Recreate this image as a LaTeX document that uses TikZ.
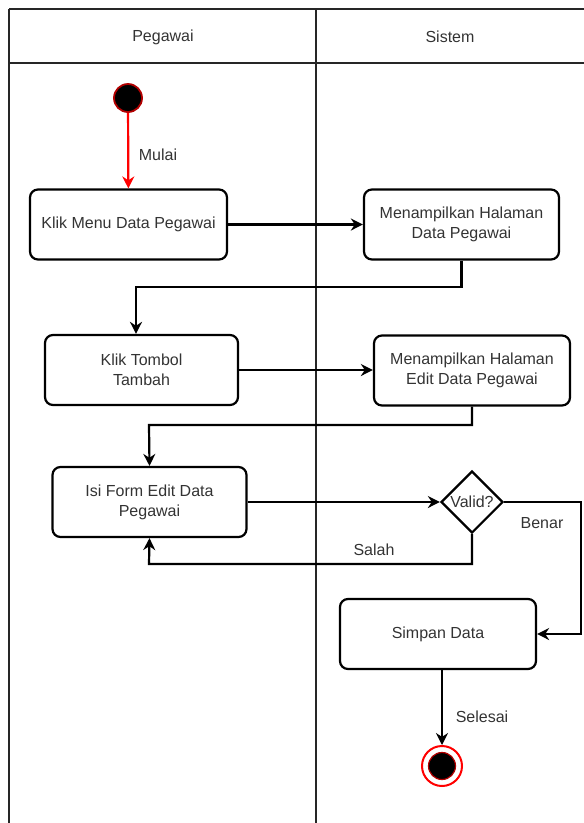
\documentclass[tikz,border=0pt]{standalone}
\usepackage{fontspec}
\setmainfont{Liberation Sans}
\usetikzlibrary{arrows.meta,shapes.geometric}

\begin{document}
\begin{tikzpicture}[x=1pt,y=-1pt,
  every node/.style={font=\fontsize{16}{20}\selectfont,text=black!80},
  lane/.style={line width=2.2pt,black!85},
  act/.style={draw,rounded corners=8pt,line width=2.2pt,align=center,minimum height=70pt,inner sep=2pt},
  decision/.style={diamond,draw,line width=2.2pt,minimum width=62pt,minimum height=62pt,inner sep=0pt},
  flow/.style={line width=2.2pt,-{Stealth[length=12pt,width=12pt]}},
  startdot/.style={circle,fill=black,draw=red!70!black,line width=1.8pt,minimum size=28pt,inner sep=0pt},
  endring/.style={circle,draw=red,line width=2pt,fill=white,minimum size=40pt,inner sep=0pt},
  enddot/.style={circle,fill=black,draw=red!70!black,line width=1.2pt,minimum size=27pt,inner sep=0pt}]
\useasboundingbox (0,0) rectangle (584,823);

\draw[lane] (9,9) -- (584,9);
\draw[lane] (9,63) -- (584,63);
\draw[lane] (9,9) -- (9,823);
\draw[lane] (316,9) -- (316,823);
\node (hpeg) at (163,37) {Pegawai};
\node (hsis) at (450,37) {Sistem};

\node[startdot] (start) at (128,98) {};
\node[act,minimum width=197pt] (menu) at (128.5,224.5) {Klik Menu Data Pegawai};
\node[act,minimum width=195pt] (hdata) at (461.5,224.5) {Menampilkan Halaman\\Data Pegawai};
\node[act,minimum width=193pt] (tombol) at (141.5,370) {Klik Tombol\\Tambah};
\node[act,minimum width=196pt] (hedit) at (472,370.5) {Menampilkan Halaman\\Edit Data Pegawai};
\node[act,minimum width=194pt] (isi) at (149.5,502) {Isi Form Edit Data\\Pegawai};
\node[decision,label={center:Valid?}] (valid) at (472,502) {};
\node[act,minimum width=196pt] (simpan) at (438,634) {Simpan Data};
\node[endring] (end) at (442,766) {};
\node[enddot] (endcore) at (end) {};

\coordinate (k1) at (136,287);
\coordinate (k2) at (149,425);
\coordinate (k3) at (581,600);
\coordinate (k4) at (149,564);

\draw[flow,red] (start) -- (menu);
\draw[flow] (menu) -- (hdata);
\draw[flow] (hdata.south) |- (k1) -- (k1 |- tombol.north);
\draw[flow] (tombol.east) -- (tombol.east -| hedit.west);
\draw[flow] (hedit.south) |- (k2) -- (isi.north);
\draw[flow] (isi) -- (valid);
\draw[flow] (valid.east) -| (k3) |- (simpan.east);
\draw[flow] (valid.south) |- (k4) -- (isi.south);
\draw[flow] (simpan.south -| end) -- (end);

\node (mulai) at (158,155) {Mulai};
\node (benar) at (542,523) {Benar};
\node (salah) at (374,550) {Salah};
\node (selesai) at (482,717) {Selesai};
\end{tikzpicture}
\end{document}
